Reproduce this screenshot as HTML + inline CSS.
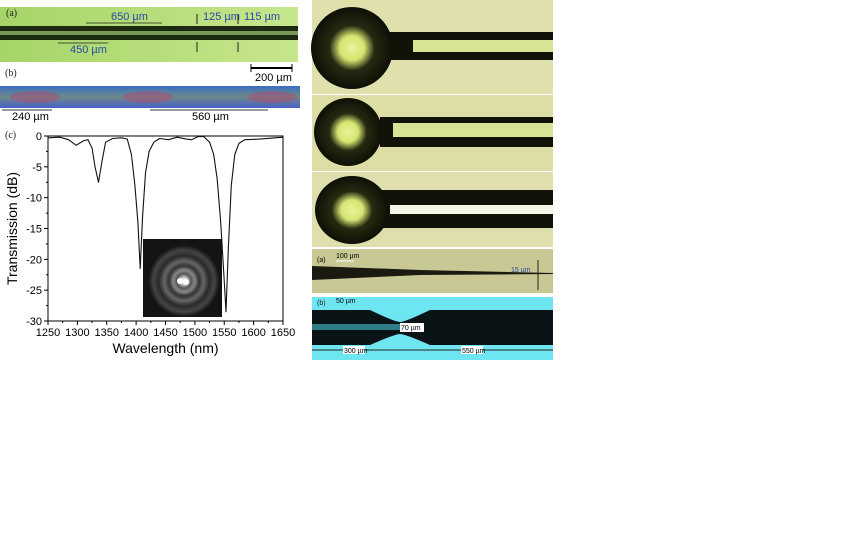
<!DOCTYPE html>
<html><head><meta charset="utf-8"><style>
body{margin:0;background:#fff;width:864px;height:540px;overflow:hidden}
svg{position:absolute;left:0;top:0;font-family:"Liberation Sans",sans-serif}
</style></head><body>
<svg width="864" height="540">
<defs>
<linearGradient id="gr" x1="0" x2="1"><stop offset="0" stop-color="#a6d468"/><stop offset="1" stop-color="#c7e68c"/></linearGradient>
<radialGradient id="ball1"><stop offset="0" stop-color="#e9f49a"/><stop offset="0.3" stop-color="#d5e472"/><stop offset="0.55" stop-color="#262a10"/><stop offset="1" stop-color="#0e0f06"/></radialGradient>
<radialGradient id="spot"><stop offset="0" stop-color="#fff"/><stop offset="0.08" stop-color="#ddd"/><stop offset="0.2" stop-color="#555"/><stop offset="0.3" stop-color="#888"/><stop offset="0.42" stop-color="#333"/><stop offset="0.55" stop-color="#666"/><stop offset="0.7" stop-color="#2a2a2a"/><stop offset="0.85" stop-color="#444"/><stop offset="1" stop-color="#111"/></radialGradient>
<linearGradient id="blu" x1="0" y1="0" x2="0" y2="1"><stop offset="0" stop-color="#3a6fc0"/><stop offset="0.5" stop-color="#6d8a8a"/><stop offset="1" stop-color="#4a5fc8"/></linearGradient>
</defs>
<g>
<rect x="0" y="7" width="298" height="55" fill="url(#gr)"/>
<rect x="0" y="26" width="298" height="5" fill="#1d2a12"/>
<rect x="0" y="31" width="298" height="4" fill="#7a9a58"/>
<rect x="0" y="35" width="298" height="5" fill="#1d2a12"/>
<text x="6" y="16" font-size="10" fill="#222" font-family="Liberation Serif,serif">(a)</text>
<text x="111" y="20" font-size="11" fill="#2a4aa8">650 µm</text>
<text x="70" y="53" font-size="11" fill="#2a4aa8">450 µm</text>
<text x="203" y="20" font-size="11" fill="#2a4aa8">125 µm</text>
<text x="244" y="20" font-size="11" fill="#2a4aa8">115 µm</text>
<line x1="86" y1="23" x2="162" y2="23" stroke="#222" stroke-width="0.8"/>
<line x1="58" y1="43" x2="108" y2="43" stroke="#222" stroke-width="0.8"/>
<line x1="197" y1="14" x2="197" y2="24" stroke="#222"/><line x1="197" y1="42" x2="197" y2="52" stroke="#222"/>
<line x1="238" y1="14" x2="238" y2="24" stroke="#222"/><line x1="238" y1="42" x2="238" y2="52" stroke="#222"/>
</g>
<text x="5" y="76" font-size="10" fill="#222" font-family="Liberation Serif,serif">(b)</text>
<g><line x1="251" y1="68" x2="292" y2="68" stroke="#000" stroke-width="2"/><line x1="251" y1="64" x2="251" y2="72" stroke="#000"/><line x1="292" y1="64" x2="292" y2="72" stroke="#000"/><text x="255" y="81" font-size="11">200 µm</text></g>
<g>
<rect x="0" y="86" width="300" height="22" fill="url(#blu)"/>
<ellipse cx="35" cy="97" rx="25" ry="6" fill="#b04a70" opacity="0.5"/>
<ellipse cx="148" cy="97" rx="25" ry="6" fill="#b04a70" opacity="0.5"/>
<ellipse cx="272" cy="97" rx="25" ry="6" fill="#b04a70" opacity="0.5"/>
<line x1="2" y1="110" x2="52" y2="110" stroke="#333"/><text x="12" y="120" font-size="11">240 µm</text>
<line x1="150" y1="110" x2="268" y2="110" stroke="#333"/><text x="192" y="120" font-size="11">560 µm</text>
</g>
<text x="5" y="138" font-size="10" fill="#222" font-family="Liberation Serif,serif">(c)</text>
<g id="chart"></g>
<g>
<rect x="312" y="0" width="241" height="94" fill="#dfe0ab"/>
<rect x="312" y="95" width="241" height="76" fill="#dcdea6"/>
<rect x="312" y="172" width="241" height="75" fill="#dfdfae"/>
<rect x="385" y="32" width="168" height="28" fill="#111308"/><rect x="413" y="40" width="140" height="12" fill="#d9e394"/>
<circle cx="352" cy="48" r="41" fill="url(#ball1)"/>
<rect x="380" y="117" width="173" height="30" fill="#111308"/><rect x="393" y="123" width="160" height="14" fill="#d9e394"/>
<circle cx="348" cy="132" r="34" fill="url(#ball1)"/>
<rect x="380" y="190" width="173" height="38" fill="#111308"/><rect x="390" y="205" width="163" height="9" fill="#f4f6e6"/>
<ellipse cx="352" cy="210" rx="37" ry="34" fill="url(#ball1)"/>
</g>
<g>
<rect x="312" y="249" width="241" height="44" fill="#c8c894"/>
<polygon points="312,266 420,270 553,273 553,274 420,275 312,280" fill="#1a1a10"/>
<text x="317" y="262" font-size="7">(a)</text><text x="336" y="258" font-size="7">100 µm</text>
<line x1="336" y1="261" x2="354" y2="261" stroke="#fff"/>
<text x="511" y="272" font-size="7" fill="#2a4aa8">15 µm</text>
<line x1="538" y1="260" x2="538" y2="290" stroke="#222"/>
</g>
<g>
<rect x="312" y="297" width="241" height="63" fill="#6ee6f2"/>
<path d="M312,310 L370,310 Q395,322 400,322 Q405,322 430,310 L553,310 L553,345 L430,345 Q405,334 400,334 Q395,334 370,345 L312,345 Z" fill="#0a1416"/>
<rect x="312" y="324" width="90" height="6" fill="#3fa9b6" opacity="0.7"/>
<text x="317" y="305" font-size="7" fill="#222">(b)</text><text x="336" y="303" font-size="7">50 µm</text>
<rect x="400" y="323" width="24" height="9" fill="#fff"/><text x="401" y="330" font-size="7">70 µm</text>
<line x1="312" y1="350" x2="553" y2="350" stroke="#222"/>
<rect x="343" y="346" width="22" height="8" fill="#fff"/><text x="344" y="353" font-size="7">300 µm</text>
<rect x="461" y="346" width="22" height="8" fill="#fff"/><text x="462" y="353" font-size="7">550 µm</text>
</g>
</svg>
<script>
const wavelengths=[1250,1270,1285,1298,1310,1318,1325,1330,1336,1342,1348,1360,1375,1385,1392,1398,1403,1407,1411,1416,1422,1430,1440,1455,1470,1485,1495,1505,1515,1525,1532,1538,1544,1549,1553,1557,1562,1568,1575,1585,1610,1650];
const transmission=[-0.3,-0.2,-0.6,-1.5,-0.8,-0.6,-2,-5,-7.5,-4,-1,-0.4,-0.3,-0.5,-3,-8,-14,-21.5,-13,-6,-2.5,-1,-0.4,-0.6,-0.2,-0.5,-0.6,-0.1,-0.1,-1,-3,-7,-14,-22,-28.5,-18,-8,-3,-1.2,-0.6,-0.5,-0.2];
const xTicks=[1250,1300,1350,1400,1450,1500,1550,1600,1650];
const yTicks=[0,-5,-10,-15,-20,-25,-30];
const L=48,R=283,T=136,B=321;
const sx=v=>L+(v-1250)/400*(R-L);
const sy=v=>T+(0-v)/30*(B-T);
const NS='http://www.w3.org/2000/svg';
const g=document.getElementById('chart');
function mk(t,a,p){const e=document.createElementNS(NS,t);for(const k in a)e.setAttribute(k,a[k]);(p||g).appendChild(e);return e;}
const fr=mk('rect',{x:L,y:T,width:R-L,height:B-T,fill:'none',stroke:'#000','stroke-width':1});


xTicks.forEach(v=>{mk('line',{x1:sx(v),x2:sx(v),y1:B,y2:B+4,stroke:'#000'});
const t=mk('text',{x:sx(v),y:B+15,'font-size':11,'text-anchor':'middle'});t.textContent=v;

});
for(let v=1275;v<1650;v+=50)mk('line',{x1:sx(v),x2:sx(v),y1:B,y2:B+2,stroke:'#000'});
yTicks.forEach(v=>{mk('line',{x1:L-4,x2:L,y1:sy(v),y2:sy(v),stroke:'#000'});
const t=mk('text',{x:L-6,y:sy(v)+4,'font-size':11,'text-anchor':'end'});t.textContent=v;

});
for(let v=-2.5;v>-30;v-=5)mk('line',{x1:L-2,x2:L,y1:sy(v),y2:sy(v),stroke:'#000'});
const inset=mk('rect',{x:143,y:239,width:79,height:78,fill:'#141414'});


mk('circle',{cx:184,cy:281,r:36,fill:'url(#spot)'});
mk('circle',{cx:180,cy:281,r:3,fill:'#fff'});mk('circle',{cx:186,cy:282,r:3,fill:'#fff'});
const d=wavelengths.map((w,i)=>(i?'L':'M')+sx(w).toFixed(1)+','+sy(transmission[i]).toFixed(1)).join(' ');
const p=mk('path',{d:d,fill:'none',stroke:'#111','stroke-width':1.1,'stroke-linejoin':'round'});


const yl=mk('text',{x:0,y:0,'font-size':14,'text-anchor':'middle',transform:'translate(17,'+((T+B)/2)+') rotate(-90)'});yl.textContent='Transmission (dB)';


const xl=mk('text',{x:(L+R)/2,y:353,'font-size':14,'text-anchor':'middle'});xl.textContent='Wavelength (nm)';


</script>
</body></html>
